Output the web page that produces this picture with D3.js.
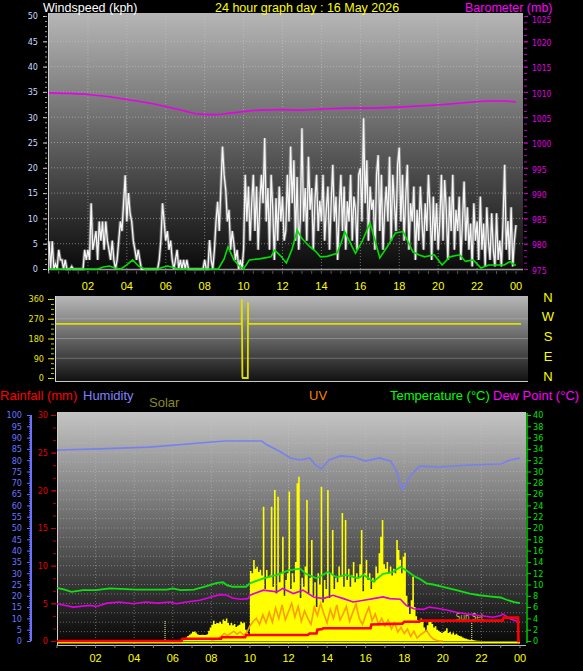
<!DOCTYPE html>
<html><head><meta charset="utf-8">
<script src="https://cdn.jsdelivr.net/npm/d3@7"></script>
<style>
body{margin:0;background:#000;}
svg{display:block;font-family:"Liberation Sans",Arial,sans-serif;}
.small{font-family:"Liberation Sans Narrow","DejaVu Sans Condensed","Liberation Sans",Arial,sans-serif;}
</style>
</head><body>
<svg id="c" width="583" height="671"></svg>
<script>
// ---------------- DATA ----------------
const dateTitle = "24 hour graph day : 16 May 2026";
const hourLabels = ["02","04","06","08","10","12","14","16","18","20","22","00"];
const hourLabelValues = [2,4,6,8,10,12,14,16,18,20,22,24];
const windTicks = [0,5,10,15,20,25,30,35,40,45,50];
const baroTicks = [975,980,985,990,995,1000,1005,1010,1015,1020,1025];
const dirTicks = [0,90,180,270,360];
const compassLabels = ["N","E","S","W","N"];
const humTicks = [0,5,10,15,20,25,30,35,40,45,50,55,60,65,70,75,80,85,90,95,100];
const rainTicks = [0,5,10,15,20,25,30];
const tempTicks = [0,2,4,6,8,10,12,14,16,18,20,22,24,26,28,30,32,34,36,38,40];

// wind gust, kph, every 5 minutes from 00:00
const windGust = [
 5.5,0,5.5,0,1,0,3.8,1.8,1.8,0,1.8,0,
 0,0,0.5,0,0,0,0,0,0,0,3.8,1.8,
 3.8,1.8,13,3.8,5.6,7.5,1.8,9.4,5.6,9.4,3.8,9.4,
 5.6,3.8,1.8,5.6,1.8,0,1.8,5.6,9.4,7.5,13,18.5,
 9.4,15,11,9.4,5.6,3.8,1.8,3.8,1.8,0,0,0,
 0,0,0,0,0,0,0,0,1.8,5.6,13,9.4,
 5.6,7.5,3.8,5.6,1.8,0,1.8,3.8,0,1.8,0,1.8,
 0,1.8,0,0,0,0,0,0,0,0,0,0,
 1.8,0,0,5.7,1.8,0,3.8,9.4,13.3,7.5,16,24.2,
 18.6,15.6,9.4,11.7,3.8,7.5,5.0,1.8,3.8,0,1.8,0,
 3.8,18.6,9.4,16.3,5.6,13,18.6,7.5,16.3,3.8,13,18.6,
 13,25.9,9.4,16,3.8,18.6,11.7,1.8,14,5.6,16.3,9.4,
 14.3,5.6,7.5,18.6,9.4,24.2,13,21.5,5.6,18.2,3.8,10,
 27.8,9.4,16,5.6,22.2,11.7,16,3.8,13.5,18.6,7.5,13.5,
 9.4,18.6,5.6,11.7,16.3,3.8,13,20.6,9.4,14.3,1.8,11.7,
 18.6,7.5,16.3,3.8,13.4,9.4,18.6,5.6,14.3,11.7,3.8,18.6,
 19.9,9.4,29.8,13,21.5,5.6,16.3,11.7,13.7,3.8,18.6,22.5,
 7.5,18.6,3.8,11.7,16.3,9.4,22.2,5.6,18.6,13,7.5,20.6,
 24,9.4,18.6,5.6,14.3,20.6,3.8,13,9.4,16.3,1.8,11.7,
 5.6,16.3,9.4,3.8,13,7.5,18.6,11.7,1.8,14.3,5.6,13,
 3.8,9.4,18.6,5.6,17.6,11.7,1.8,14.3,7.5,18.6,3.8,11.7,
 7.5,14.3,1.8,9.4,17.3,5.6,12.2,3.8,9,0.5,13,5.6,
 9.4,1.8,14.3,3.8,9,0.5,12.2,5.6,1.8,11,3.8,0.5,
 11,1.8,5.6,0.5,9.4,20.6,3.8,9.5,1.8,12.2,0.5,5.6,
 8.7];

// average wind, [hour, kph]
const windAvg = [[0,0],[2.5,0],[2.8,0.4],[3.1,0.6],[3.4,0.2],[3.7,0],[4.0,0.8],[4.3,1.8],[4.6,0.6],[4.9,0],[5.6,0],[5.9,0.4],[6.1,0.6],[6.4,0.3],[6.7,0],[8.7,0],[9.0,2.0],[9.2,4.4],[9.5,1.8],[9.8,0.5],[10.0,0],[10.3,1.8],[10.8,2.0],[11.1,2.2],[11.4,2.4],[11.6,3.7],[11.9,2.6],[12.2,1.2],[12.5,4.0],[12.75,7.7],[13.0,6.0],[13.4,4.4],[13.7,3.5],[13.95,2.4],[14.3,2.5],[14.8,3.1],[15.0,5.0],[15.2,7.4],[15.5,5.0],[15.75,3.1],[16.1,5.5],[16.5,9.1],[16.8,5.0],[17.0,2.2],[17.4,4.5],[17.8,7.1],[18.2,7.4],[18.5,5.0],[18.7,3.4],[19.0,2.8],[19.3,2.4],[19.8,2.8],[20.2,0.8],[20.6,2.4],[21.1,2.8],[21.4,1.5],[21.8,1.8],[22.2,0.2],[22.6,0.8],[23.4,0.8],[23.7,1.5],[23.9,0.8],[24,0.8]];

// barometer, [hour, mb]
const baro = [[0,1009.8],[1,1009.7],[2,1009.5],[3,1009.1],[4,1008.5],[5,1007.9],[6,1007.1],[7,1006.2],[7.7,1005.6],[8.5,1005.5],[9.3,1005.8],[10,1006.1],[10.8,1006.4],[12,1006.5],[12.9,1006.4],[14,1006.6],[15.4,1006.8],[16.5,1006.8],[18,1007.0],[19,1007.2],[20.6,1007.6],[21.5,1007.9],[22.6,1008.2],[23.3,1008.2],[24,1008.0]];

// wind direction, [hour, degrees]
const windDir = [[0,247],[9.58,247],[9.59,360],[9.62,5],[9.64,0],[9.9,0],[9.91,345],[9.92,247],[24,247]];

// humidity %, temperature C, dew point C, rainfall mm : [hour, value]
const humidity = [[0,84.5],[2.2,85],[4.8,85.8],[7.4,87.6],[8.7,88.5],[10.6,88.5],[10.9,86.7],[11.6,83.6],[12.1,81],[12.6,80.1],[13.1,81],[13.4,77.9],[13.7,76.1],[14.1,80.1],[14.7,81.9],[15.4,81.4],[16.0,79.6],[16.7,81],[17.3,79.6],[17.6,75.2],[17.9,66.8],[18.3,73],[18.8,77.4],[19.8,77],[21.4,77.9],[23.0,78.3],[23.5,80.1],[24,81]];
const temperature = [[0,9.4],[0.4,9.1],[0.75,8.7],[1.35,9.0],[2.0,9.0],[2.75,9.3],[4.1,9.1],[5.0,9.1],[5.7,9.1],[6.0,9.3],[6.4,9.0],[7.1,9.1],[7.75,9.7],[8.3,10.3],[8.6,10.4],[8.8,9.9],[9.1,9.6],[9.8,9.6],[10.0,10.2],[10.7,11.1],[11.4,11.7],[12.0,12.5],[12.6,12.8],[12.9,11.9],[13.45,11.1],[14.05,12.2],[14.5,11.3],[15.0,11.7],[15.6,11.1],[15.9,11.7],[16.4,10.5],[16.9,11.9],[17.4,12.2],[17.8,13.1],[18.1,12.5],[18.5,11.5],[18.8,11.0],[19.15,10.2],[19.5,10.0],[20.0,9.6],[20.7,9.0],[21.4,8.4],[21.9,8.1],[22.4,7.9],[23.0,7.7],[23.3,7.3],[23.7,6.9],[24,6.7]];
const dewPoint = [[0,6.6],[0.85,6.0],[1.7,6.3],[2.05,6.1],[2.6,6.7],[3.25,6.9],[3.95,6.6],[4.6,6.9],[5.2,6.7],[5.85,6.9],[6.2,6.6],[6.7,6.9],[7.4,7.2],[7.9,7.7],[8.45,8.2],[8.8,8.1],[9.1,7.6],[9.5,7.4],[9.9,7.5],[10.0,8.1],[10.7,9.0],[11.4,8.7],[11.7,9.3],[12.25,8.4],[12.75,9.0],[13.3,7.8],[13.8,7.5],[14.3,8.1],[14.85,7.5],[15.35,6.9],[15.9,7.2],[16.4,7.5],[16.9,7.8],[17.25,7.5],[17.8,7.4],[18.1,6.3],[18.5,5.7],[19.0,5.6],[19.3,6.0],[19.7,5.8],[20.2,5.5],[20.7,5.1],[21.2,4.8],[21.9,4.5],[22.6,4.2],[23.0,4.5],[23.1,4.8],[23.5,3.9],[24,3.3]];
const rainfall = [[0,0],[6.45,0],[6.5,0.3],[8.5,0.3],[8.55,0.5],[9.75,0.5],[9.8,0.8],[13.0,0.8],[13.1,1.0],[13.45,1.0],[13.5,1.5],[13.75,1.6],[13.8,1.7],[16.25,1.7],[16.3,2.2],[17.9,2.3],[18.0,2.55],[18.75,2.55],[18.8,2.7],[23.1,2.7],[23.15,3.1],[23.9,3.1],[23.92,0],[24,0]];

// solar W/m2, every 5 minutes from 06:00
const solarStart = 6;
const solar = [
 0,0,0,0,0,0,5,10,15,22,28,33,
 40,42,38,30,27,26,28,27,26,30,45,60,
 72,90,75,80,78,85,76,95,88,100,80,70,
 80,70,75,62,68,72,85,78,82,50,35,30,
 310,300,358,320,329,305,315,290,594,230,314,280,
 290,594,240,668,210,638,260,300,461,200,270,300,
 661,230,300,260,350,698,727,190,280,240,330,624,
 210,280,447,200,260,150,300,250,683,170,270,230,
 668,190,300,491,230,280,260,330,290,566,240,535,
 270,320,240,290,350,260,300,280,340,491,220,300,
 358,270,300,230,280,260,330,300,388,461,535,340,
 320,350,300,330,290,320,300,447,403,360,300,373,
 390,200,150,120,180,284,150,110,93,80,100,85,
 60,40,70,90,85,75,60,65,50,45,40,35,
 40,45,56,35,40,30,38,28,32,25,22,20,
 15,12,10,8,6,5,4,3,2,1,1,0,
 0];

// UV index, every 10 minutes from 08:00
const uvStart = 8;
const uv = [
 0.1,0.2,0.3,0.6,1.0,0.7,
 1.0,1.3,0.9,1.2,0.8,1.1,
 2.0,2.6,3.0,2.2,3.5,2.4,
 3.8,2.5,4.4,3.0,4.8,2.8,
 3.9,5.0,3.2,4.6,2.6,4.0,
 3.0,2.2,4.5,3.4,5.0,3.6,
 2.4,4.2,3.0,4.8,2.8,3.6,
 4.6,2.6,3.8,4.9,3.0,2.2,
 3.4,4.5,2.7,3.6,2.2,3.0,
 2.0,2.8,1.6,2.4,1.2,1.8,
 1.0,1.6,0.6,1.3,0.4,0.8,
 1.1,1.4,0.7,0.3,0.1,0.0,
 0];

const sunRise = 5.6, sunSet = 21.5;

// ---------------- DRAW ----------------
const svg = d3.select("#c");
const defs = svg.append("defs");
function grad(id, c1, c2){
  const g = defs.append("linearGradient").attr("id",id).attr("x1",0).attr("y1",0).attr("x2",0).attr("y2",1);
  g.append("stop").attr("offset","0%").attr("stop-color",c1);
  g.append("stop").attr("offset","100%").attr("stop-color",c2);
}
grad("gTop","#b6b6b6","#080808");
grad("gMid","#b8b8b8","#101010");
grad("gBot","#c4c4c4","#060606");

function label(x,y,txt,color,size,anchor,cls){
  return svg.append("text").attr("x",x).attr("y",y).text(txt).attr("fill",color)
    .attr("font-size",size).attr("text-anchor",anchor||"start").attr("class",cls||null);
}
function styleAxis(g, color, fontSize){
  g.select(".domain").remove();
  g.selectAll(".tick line").attr("stroke",color);
  g.selectAll(".tick text").attr("fill",color).attr("font-size",fontSize).attr("class","small");
}

// ===== TOP PANEL =====
const xTop = d3.scaleLinear().domain([0,24]).range([49,516]);
const yWind = d3.scaleLinear().domain([0,50]).range([269,16]);
const yBaro = d3.scaleLinear().domain([975,1025]).range([269,16]);
svg.append("rect").attr("x",48).attr("y",13).attr("width",475).attr("height",260).attr("fill","url(#gTop)");
const gridTop = svg.append("g").attr("stroke","#c8c8c8").attr("stroke-dasharray","1,2").attr("stroke-opacity",0.55);
windTicks.filter(v=>v>0&&v<50).forEach(v=>gridTop.append("line").attr("x1",48).attr("x2",523).attr("y1",yWind(v)).attr("y2",yWind(v)));
hourLabelValues.filter(h=>h<24).forEach(h=>gridTop.append("line").attr("x1",xTop(h)).attr("x2",xTop(h)).attr("y1",13).attr("y2",273));
svg.append("line").attr("x1",48).attr("x2",523).attr("y1",yWind(0)+0.5).attr("y2",yWind(0)+0.5).attr("stroke","#9a9a9a").attr("stroke-width",1.5);
svg.append("line").attr("x1",48.5).attr("x2",48.5).attr("y1",13).attr("y2",273).attr("stroke","#d0d0d0");
const tTop = svg.append("g").attr("stroke","#555");
d3.range(0,24.01,0.5).forEach(h=>tTop.append("line").attr("x1",xTop(h)).attr("x2",xTop(h)).attr("y1",271).attr("y2",274));

// wind gust
const lineGust = d3.line().x((d,i)=>xTop(i/12)).y(d=>yWind(d));
svg.append("path").datum(windGust).attr("d",lineGust).attr("fill","none").attr("stroke","#b4b4b4").attr("stroke-width",3.2).attr("stroke-opacity",0.5);
svg.append("path").datum(windGust).attr("d",lineGust).attr("fill","none").attr("stroke","#f6f6f6").attr("stroke-width",1.3);
// avg wind
svg.append("path").datum(windAvg).attr("d",d3.line().x(d=>xTop(d[0])).y(d=>yWind(d[1])))
  .attr("fill","none").attr("stroke","#00e000").attr("stroke-width",1.6);
// barometer
svg.append("path").datum(baro).attr("d",d3.line().curve(d3.curveMonotoneX).x(d=>xTop(d[0])).y(d=>yBaro(d[1])))
  .attr("fill","none").attr("stroke","#e800e8").attr("stroke-width",1.6);

// axes
const axW = svg.append("g").attr("transform","translate(47,0)")
  .call(d3.axisLeft(yWind).tickValues(windTicks).tickSize(4).tickPadding(5));
styleAxis(axW,"#c8d8ff",9);
axW.selectAll(".tick line").attr("stroke","#d0d0d0");
const axWm = svg.append("g").attr("transform","translate(47,0)")
  .call(d3.axisLeft(yWind).tickValues(d3.range(0,51,1)).tickSize(2).tickFormat(""));
axWm.select(".domain").remove(); axWm.selectAll("line").attr("stroke","#a0a0a0");

const axB = svg.append("g").attr("transform","translate(524,0)")
  .call(d3.axisRight(yBaro).tickValues(baroTicks).tickSize(4).tickPadding(4).tickFormat(d3.format("d")));
styleAxis(axB,"#e000e0",8.5);
axB.selectAll(".tick text").attr("dy",d=>d===1025?"0.74em":"0.5em");
const axBm = svg.append("g").attr("transform","translate(524,0)")
  .call(d3.axisRight(yBaro).tickValues(d3.range(975,1025.1,1.25)).tickSize(3).tickFormat(""));
axBm.select(".domain").remove(); axBm.selectAll("line").attr("stroke","#c000c0");

// titles
label(43,11.5,"Windspeed (kph)","#ffffff",12.5);
label(215,11.5,dateTitle,"#ffff00",12.5);
label(465,11.5,"Barometer (mb)","#ff00ff",12.5);
hourLabels.forEach((t,i)=>label(xTop(hourLabelValues[i]),290,t,"#ffff00",11,"middle"));

// ===== MIDDLE PANEL =====
const xMid = d3.scaleLinear().domain([0,24]).range([56,521]);
const yDir = d3.scaleLinear().domain([0,360]).range([378,299]);
svg.append("rect").attr("x",55).attr("y",296).attr("width",473).attr("height",86).attr("fill","url(#gMid)");
const gridMid = svg.append("g").attr("stroke","#d0d0d0").attr("stroke-opacity",0.35);
[90,180,270].forEach(v=>gridMid.append("line").attr("x1",55).attr("x2",528).attr("y1",yDir(v)).attr("y2",yDir(v)));
svg.append("line").attr("x1",55.5).attr("x2",55.5).attr("y1",296).attr("y2",382).attr("stroke","#d8d8d8");
svg.append("line").attr("x1",55).attr("x2",528).attr("y1",381.5).attr("y2",381.5).attr("stroke","#c8c8c8");
svg.append("path").datum(windDir).attr("d",d3.line().x(d=>xMid(d[0])).y(d=>yDir(d[1])))
  .attr("fill","none").attr("stroke","#e0e000").attr("stroke-width",1.8);
const axD = svg.append("g").attr("transform","translate(54,0)")
  .call(d3.axisLeft(yDir).tickValues(dirTicks).tickSize(6).tickPadding(4));
styleAxis(axD,"#e8e800",9);
const axDm = svg.append("g").attr("transform","translate(54,0)")
  .call(d3.axisLeft(yDir).tickValues(d3.range(0,361,22.5)).tickSize(3).tickFormat(""));
axDm.select(".domain").remove(); axDm.selectAll("line").attr("stroke","#c8c800");
dirTicks.forEach((v,i)=>label(548,yDir(v)-2,compassLabels[i],"#ffff00",13,"middle").attr("dominant-baseline","central"));

// ===== BOTTOM PANEL =====
const xBot = d3.scaleLinear().domain([0,24]).range([57,520]);
const yRain = d3.scaleLinear().domain([0,30]).range([641,415]);
const yHum = d3.scaleLinear().domain([0,100]).range([641,415]);
const yTemp = d3.scaleLinear().domain([0,40]).range([641,415]);
const ySolar = d3.scaleLinear().domain([0,1000]).range([641,415]);
svg.append("rect").attr("x",57).attr("y",412).attr("width",469).attr("height",233).attr("fill","url(#gBot)");
const gridBot = svg.append("g").attr("stroke","#c8c8c8").attr("stroke-dasharray","1,2").attr("stroke-opacity",0.45);
d3.range(1.25,30,1.25).forEach(v=>gridBot.append("line").attr("x1",57).attr("x2",526).attr("y1",yRain(v)).attr("y2",yRain(v)));
hourLabelValues.filter(h=>h<24).forEach(h=>gridBot.append("line").attr("x1",xBot(h)).attr("x2",xBot(h)).attr("y1",412).attr("y2",645));
svg.append("line").attr("x1",57.5).attr("x2",57.5).attr("y1",412).attr("y2",645).attr("stroke","#d0d0d0");
svg.append("line").attr("x1",57).attr("x2",526).attr("y1",645.5).attr("y2",645.5).attr("stroke","#c0c0c0");
const tBot = svg.append("g").attr("stroke","#888");
d3.range(0,24.01,1).forEach(h=>tBot.append("line").attr("x1",xBot(h)).attr("x2",xBot(h)).attr("y1",645).attr("y2",648));

// solar area
svg.append("path").datum(solar)
  .attr("d",d3.area().curve(d3.curveStepAfter).x((d,i)=>xBot(solarStart+i/12)).y0(ySolar(0)).y1(d=>ySolar(d)))
  .attr("fill","#ffff00");
svg.append("line").attr("x1",57).attr("x2",520).attr("y1",642.5).attr("y2",642.5).attr("stroke","#ffff00").attr("stroke-width",2);
// UV
svg.append("path").datum(uv).attr("d",d3.line().x((d,i)=>xBot(uvStart+i/6)).y(d=>yRain(d)))
  .attr("fill","none").attr("stroke","#ff9a00").attr("stroke-width",1.6);
// sunrise / sunset
[sunRise,sunSet].forEach(h=>svg.append("line").attr("x1",xBot(h)).attr("x2",xBot(h)).attr("y1",621).attr("y2",641)
  .attr("stroke","#ffffa0").attr("stroke-dasharray","1,1"));
label(xBot(sunSet)-2,620,"Sun Set","#d0d040",8,"middle","small");
// temperature, dew point, humidity
svg.append("path").datum(temperature).attr("d",d3.line().x(d=>xBot(d[0])).y(d=>yTemp(d[1])))
  .attr("fill","none").attr("stroke","#10e010").attr("stroke-width",1.8);
svg.append("path").datum(dewPoint).attr("d",d3.line().x(d=>xBot(d[0])).y(d=>yTemp(d[1])))
  .attr("fill","none").attr("stroke","#e000e0").attr("stroke-width",1.6);
svg.append("path").datum(humidity).attr("d",d3.line().x(d=>xBot(d[0])).y(d=>yHum(d[1])))
  .attr("fill","none").attr("stroke","#7880f0").attr("stroke-width",1.6);
// rain
svg.append("path").datum(rainfall).attr("d",d3.line().x(d=>xBot(d[0])).y(d=>yRain(d[1])))
  .attr("fill","none").attr("stroke","#ff0000").attr("stroke-width",2.6);

// axes
const axH = svg.append("g").attr("transform","translate(31,0)")
  .call(d3.axisLeft(yHum).tickValues(humTicks).tickSize(4).tickPadding(5));
axH.selectAll(".tick line").attr("stroke","#6a70ff");
axH.selectAll(".tick text").attr("fill","#6a74ff").attr("font-size",9).attr("class","small");
axH.select(".domain").attr("stroke","#6a70ff").attr("stroke-width",2).attr("d","M0,415V641");
const axHm = svg.append("g").attr("transform","translate(31,0)")
  .call(d3.axisLeft(yHum).tickValues(d3.range(0,101,1)).tickSize(2).tickFormat(""));
axHm.select(".domain").remove(); axHm.selectAll("line").attr("stroke","#6a70ff");

const axR = svg.append("g").attr("transform","translate(56,0)")
  .call(d3.axisLeft(yRain).tickValues(rainTicks).tickSize(5).tickPadding(3));
styleAxis(axR,"#e00000",9);
const axRm = svg.append("g").attr("transform","translate(56,0)")
  .call(d3.axisLeft(yRain).tickValues(d3.range(0,30.1,5/3)).tickSize(3).tickFormat(""));
axRm.select(".domain").remove(); axRm.selectAll("line").attr("stroke","#c00000");

const axT = svg.append("g").attr("transform","translate(527,0)")
  .call(d3.axisRight(yTemp).tickValues(tempTicks).tickSize(4).tickPadding(2));
styleAxis(axT,"#00e000",9);
svg.append("line").attr("x1",527).attr("x2",527).attr("y1",413).attr("y2",643).attr("stroke","#00d000").attr("stroke-width",1.5);

// legend texts
label(0,400,"Rainfall (mm)","#ff0000",13);
label(83,400,"Humidity","#8080ff",13);
label(149,407,"Solar","#8a8a20",13);
label(309,400,"UV","#ff8000",13);
label(390,400,"Temperature (°C)","#00ff00",13);
label(493,400,"Dew Point (°C)","#ff00ff",13);
hourLabels.forEach((t,i)=>label(xBot(hourLabelValues[i]),662,t,"#ffff00",11,"middle"));
</script>
</body></html>
